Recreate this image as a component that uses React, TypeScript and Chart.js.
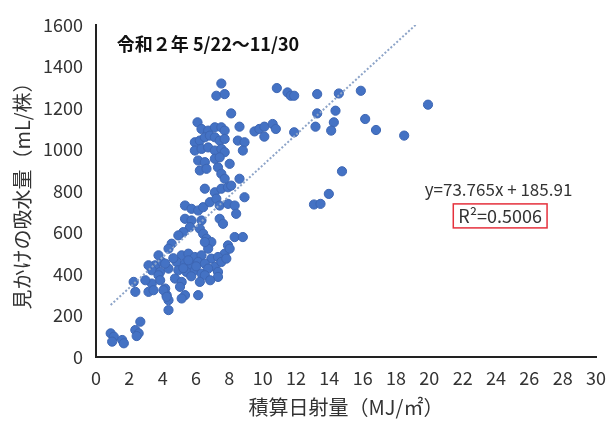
import React, { useEffect, useRef } from "react";
import { Chart, registerables } from "chart.js";

Chart.register(...registerables);

// Integrated solar radiation (MJ/m2)
const radiation = [
  7.52, 7.22, 7.72, 10.85, 11.49, 11.69, 11.89, 8.11, 6.09, 6.33,
  6.73, 7.13, 7.52, 7.72, 8.61, 9.51, 9.80, 10.10, 10.60, 10.79,
  10.10, 5.93, 6.23, 6.53, 6.83, 7.13, 7.42, 7.72, 8.51, 8.91,
  8.81, 5.93, 6.33, 6.73, 7.13, 7.52, 7.72, 6.13, 6.53, 7.13,
  7.42, 8.02, 6.23, 6.63, 7.32, 7.52, 7.72, 8.61, 6.53, 7.13,
  7.52, 7.92, 8.11, 8.91, 13.27, 14.57, 15.89, 19.92, 13.27, 14.37,
  14.27, 16.15, 16.80, 18.49, 13.17, 14.11, 11.89, 14.76, 13.97, 13.08,
  13.47, 5.34, 5.73, 6.13, 6.43, 6.83, 7.22, 7.42, 7.92, 8.32,
  8.41, 5.34, 5.73, 6.33, 7.42, 7.62, 5.64, 6.23, 6.43, 5.24,
  4.94, 8.32, 8.81, 4.54, 4.35, 6.63, 6.92, 6.73, 7.92, 7.72,
  5.14, 5.54, 5.93, 6.33, 6.92, 7.32, 4.84, 5.34, 5.73, 6.13,
  6.53, 7.13, 7.52, 7.82, 4.94, 5.43, 5.93, 6.33, 6.73, 7.32,
  3.55, 3.95, 3.35, 3.85, 4.35, 4.74, 5.14, 6.53, 6.23, 7.32,
  3.35, 4.15, 5.04, 5.34, 6.13, 4.24, 4.35, 5.54, 6.01, 5.24,
  5.71, 6.85, 4.64, 3.75, 4.15, 3.15, 3.75, 3.85, 2.96, 2.26,
  2.36, 3.15, 3.45, 4.05, 4.24, 4.35, 5.14, 0.88, 1.07, 0.97,
  1.57, 1.67, 2.36, 2.66, 2.56, 2.44, 8.02, 6.53,
];

// Apparent water absorption (mL/plant)
const absorption = [
  1318, 1259, 1267, 1296, 1275, 1259, 1259, 1174, 1131, 1099,
  1091, 1107, 1107, 1091, 1110, 1087, 1099, 1110, 1123, 1099,
  1062, 1035, 1043, 1059, 1067, 1059, 1043, 1051, 1043, 1035,
  995, 995, 1003, 1010, 995, 1003, 987, 947, 939, 955,
  962, 931, 899, 907, 914, 883, 859, 859, 811, 794,
  811, 818, 826, 770, 1267, 1270, 1283, 1216, 1174, 1187,
  1131, 1147, 1094, 1067, 1110, 1091, 1083, 895, 786, 735,
  738, 730, 714, 706, 722, 746, 763, 730, 738, 730,
  690, 666, 658, 658, 666, 642, 626, 618, 594, 602,
  586, 578, 578, 546, 522, 570, 554, 522, 538, 498,
  490, 498, 482, 490, 474, 482, 458, 450, 442, 458,
  450, 434, 458, 474, 418, 410, 418, 402, 426, 410,
  442, 458, 418, 410, 426, 378, 362, 394, 362, 386,
  354, 330, 338, 298, 298, 298, 274, 466, 437, 428,
  389, 370, 476, 490, 450, 442, 394, 370, 370, 362,
  314, 314, 322, 322, 290, 226, 282, 114, 98, 74,
  82, 66, 130, 170, 114, 101, 522, 554,
];

const SLOPE = 73.765;
const INTERCEPT = 185.91;
const equationText = "y=73.765x + 185.91";
const r2Text = "R²=0.5006";
const titleText = "令和２年 5/22〜11/30";
const xTitle = "積算日射量（MJ/㎡）";
const yTitle = "見かけの吸水量（mL/株）";

const X_MIN = 0, X_MAX = 30, X_STEP = 2;
const Y_MIN = 0, Y_MAX = 1600, Y_STEP = 200;

const FONT = "'Noto Sans CJK JP', 'Noto Sans', sans-serif";

const annotationPlugin = {
  id: "annots",
  afterDatasetsDraw(chart: any) {
    const { ctx, scales } = chart;
    const xs = scales.x, ys = scales.y;
    ctx.save();
    // in-plot title
    ctx.font = `bold 18px ${FONT}`;
    ctx.fillStyle = "#111";
    ctx.textAlign = "left";
    ctx.textBaseline = "middle";
    ctx.fillText(titleText, xs.getPixelForValue(1.25), ys.getPixelForValue(1510));
    // equation
    ctx.font = `17px ${FONT}`;
    ctx.fillStyle = "#333";
    ctx.textAlign = "center";
    ctx.fillText(equationText, xs.getPixelForValue(24.15), ys.getPixelForValue(805));
    // R2 with box
    ctx.font = `18px ${FONT}`;
    const cx = xs.getPixelForValue(24.25);
    const cy = ys.getPixelForValue(680);
    ctx.fillText(r2Text, cx, cy);
    const w = ctx.measureText(r2Text).width + 10;
    ctx.strokeStyle = "#e5313c";
    ctx.lineWidth = 1.5;
    ctx.strokeRect(cx - w / 2, cy - 12, w, 24);
    ctx.restore();
  },
};

export default function App() {
  const ref = useRef<HTMLCanvasElement | null>(null);
  useEffect(() => {
    if (!ref.current) return;
    const points = radiation.map((x, i) => ({ x, y: absorption[i] }));
    const minX = Math.min(...radiation);
    const maxX = Math.max(...radiation);
    const trend = [
      { x: minX, y: SLOPE * minX + INTERCEPT },
      { x: maxX, y: SLOPE * maxX + INTERCEPT },
    ];
    const chart = new Chart(ref.current, {
      type: "scatter",
      data: {
        datasets: [
          {
            type: "line",
            data: trend,
            borderColor: "#8da4c8",
            borderWidth: 2,
            borderDash: [2, 2],
            pointRadius: 0,
            fill: false,
            order: 0,
          } as any,
          {
            data: points,
            backgroundColor: "#4472c4",
            borderColor: "#3d66b3",
            borderWidth: 1,
            pointRadius: 4.6,
            order: 1,
          },
        ],
      },
      options: {
        animation: false,
        responsive: false,
        layout: { padding: { top: 25, right: 15, left: 0, bottom: 0 } },
        plugins: { legend: { display: false }, tooltip: { enabled: false } },
        scales: {
          x: {
            type: "linear",
            min: X_MIN,
            max: X_MAX,
            afterFit: (s: any) => { s.height = 72; },
            grid: { display: false, drawTicks: false },
            border: { color: "#222", width: 2 },
            ticks: {
              stepSize: X_STEP,
              padding: 10,
              color: "#333",
              font: { family: FONT, size: 18 },
              maxRotation: 0,
              autoSkip: false,
              callback: (v: any) => String(v),
            },
            title: {
              display: true,
              text: xTitle,
              color: "#333",
              font: { family: FONT, size: 20 },
              padding: { top: 0, bottom: 10 },
            },
          },
          y: {
            type: "linear",
            min: Y_MIN,
            max: Y_MAX,
            afterFit: (s: any) => { s.width = 96; },
            grid: { display: false, drawTicks: false },
            border: { color: "#222", width: 2 },
            ticks: {
              stepSize: Y_STEP,
              padding: 13,
              color: "#333",
              font: { family: FONT, size: 18 },
              callback: (v: any) => String(v),
            },
            title: {
              display: true,
              text: yTitle,
              color: "#333",
              font: { family: FONT, size: 20 },
              padding: { top: 10, bottom: 0 },
            },
          },
        },
      },
      plugins: [annotationPlugin],
    });
    return () => chart.destroy();
  }, []);
  return (
    <canvas
      ref={ref}
      width={616}
      height={429}
      style={{ position: "absolute", left: 0, top: 0, display: "block" }}
    />
  );
}
